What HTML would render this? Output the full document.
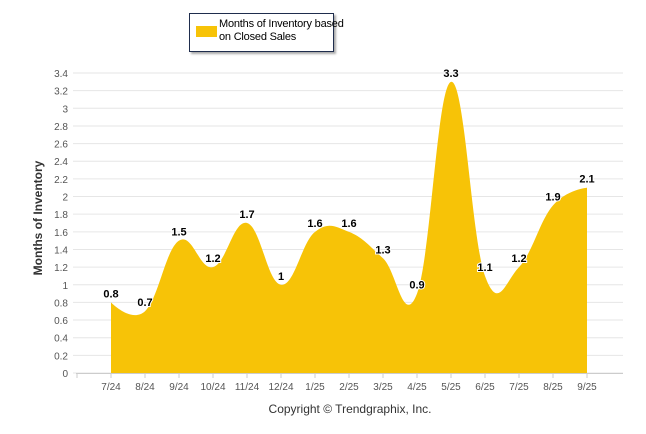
<!DOCTYPE html>
<html><head><meta charset="utf-8"><style>
body{margin:0;background:#fff;font-family:"Liberation Sans",sans-serif}
#wrap{position:relative;width:646px;height:434px;overflow:hidden}
</style></head><body>
<div id="wrap">
<div style="position:absolute;left:189px;top:13px;width:143px;height:37px;border:1px solid #1f2d4d;box-shadow:2px 2px 2px #aaa;background:#fff">
 <div style="position:absolute;left:6px;top:12px;width:21px;height:11px;background:#f7c307"></div>
 <div style="position:absolute;left:29px;top:4px;font-size:11px;line-height:13px;color:#000;white-space:nowrap;letter-spacing:-0.2px">Months of Inventory based<br>on Closed Sales</div>
</div>
<svg id="chart" width="646" height="434" style="position:absolute;left:0;top:0"></svg>
<div style="position:absolute;left:0;width:700px;top:402px;text-align:center;font-size:12px;color:#333">Copyright © Trendgraphix, Inc.</div>
</div>
<script>
const categories=["7/24","8/24","9/24","10/24","11/24","12/24","1/25","2/25","3/25","4/25","5/25","6/25","7/25","8/25","9/25"];
const values=[0.8,0.7,1.5,1.2,1.7,1,1.6,1.6,1.3,0.9,3.3,1.1,1.2,1.9,2.1];
const yTicks=[0,0.2,0.4,0.6,0.8,1,1.2,1.4,1.6,1.8,2,2.2,2.4,2.6,2.8,3,3.2,3.4];
const NS="http://www.w3.org/2000/svg";
const svg=document.getElementById('chart');
const x=i=>111+34*i;
const y=v=>373-v*300/3.4;
function mk(t,a,txt){const e=document.createElementNS(NS,t);for(const k in a)e.setAttribute(k,a[k]);if(txt!==undefined)e.textContent=txt;svg.appendChild(e);return e;}
yTicks.forEach(v=>{
 const g=mk('line',{x1:73,x2:623,y1:y(v),y2:y(v),stroke:'#e6e6e6','stroke-width':1});
 
 
 const t=mk('text',{x:68,y:y(v)+4,'text-anchor':'end','font-size':10,fill:'#555'},String(v));
 
 
});
const ax=mk('line',{x1:76,x2:623,y1:373.5,y2:373.5,stroke:'#ccc'});


const pts=values.map((v,i)=>({x:x(i),y:y(v)}));
const sm=1.5,dn=2.5;
pts.forEach((p,i)=>{
 if(i===0||i===pts.length-1){p.lx=p.x;p.ly=p.y;p.rx=p.x;p.ry=p.y;return;}
 const a=pts[i-1],b=pts[i+1];
 let lx=(sm*p.x+a.x)/dn,ly=(sm*p.y+a.y)/dn,rx=(sm*p.x+b.x)/dn,ry=(sm*p.y+b.y)/dn;
 const c=((ry-ly)*(rx-p.x))/(rx-lx)+p.y-ry;
 ly+=c;ry+=c;
 p.lx=lx;p.ly=ly;p.rx=rx;p.ry=ry;
});
let d=`M${pts[0].x},${y(0)} L${pts[0].x},${pts[0].y}`;
for(let i=1;i<pts.length;i++){const a=pts[i-1],p=pts[i];d+=` C${a.rx},${a.ry} ${p.lx},${p.ly} ${p.x},${p.y}`;}
d+=` L${pts[pts.length-1].x},${y(0)} Z`;
const area=mk('path',{d:d,fill:'#f7c307'});


categories.forEach((c,i)=>{
 const tk=mk('line',{x1:x(i),x2:x(i),y1:373,y2:378,stroke:'#ccc'});
 
 
 const t=mk('text',{x:x(i),y:390,'text-anchor':'middle','font-size':10,fill:'#555'},c);
 
 
 const l=mk('text',{x:x(i),y:y(values[i])-5,'text-anchor':'middle','font-size':11,'font-weight':'bold',fill:'#000',stroke:'#fff','stroke-width':2,'paint-order':'stroke'},String(values[i]));
 
 
});
const ft=mk('line',{x1:77,x2:77,y1:373,y2:378,stroke:'#ccc'});


const yt=mk('text',{x:0,y:0,transform:'translate(42,218) rotate(-90)','text-anchor':'middle','font-size':12,'font-weight':'bold',fill:'#333'},'Months of Inventory');


</script>
</body></html>
